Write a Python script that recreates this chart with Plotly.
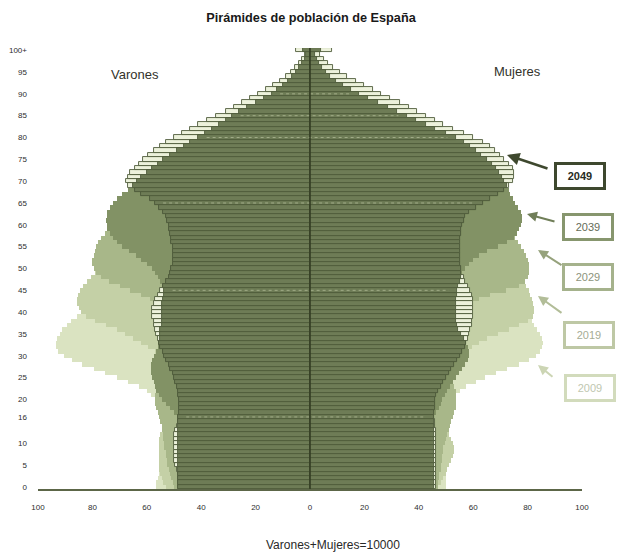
import numpy as np
import plotly.graph_objects as go

# ---------------- data (per 10000 inhabitants, single years of age 0..100+) ----------------
ages = list(range(101))
age_tick_vals = [0, 5, 10, 16, 20, 25, 30, 35, 40, 45, 50, 55, 60, 65, 70, 75, 80, 85, 90, 95, 100]
age_tick_text = ["0", "5", "10", "16", "20", "25", "30", "35", "40", "45", "50", "55", "60", "65",
                 "70", "75", "80", "85", "90", "95", "100+"]
x_tick_vals = [-100, -80, -60, -40, -20, 0, 20, 40, 60, 80, 100]
x_tick_text = ["100", "80", "60", "40", "20", "0", "20", "40", "60", "80", "100"]
years = ["2009", "2019", "2029", "2039", "2049"]
marked_ages = [16, 45, 65, 80, 85, 90]

men_2009 = [56.6, 56.6, 56, 55.5, 54.5, 53, 51.5, 50, 48.5, 47.5,
            47, 46.5, 46.5, 46.5, 47, 48, 49.5, 51.5, 53.5, 55.5,
            57, 58.5, 60, 63, 67, 71, 75.5, 79.5, 84, 87.5,
            90.5, 92.5, 93.5, 93.5, 93, 92, 91, 89.5, 88, 85.5,
            83.5, 82, 80.5, 79, 78, 76.5, 75, 73.5, 72, 70.5,
            69, 67.5, 66, 64.5, 63, 61.5, 60, 58.5, 57, 55.5,
            54.5, 53, 52, 51, 49.5, 48, 46, 42, 39, 37,
            38, 38.5, 38, 36, 34, 33, 32, 31, 30, 28,
            26, 24, 22, 20, 17.5, 15, 13, 11, 9, 7.5,
            6, 4.5, 3.5, 2.5, 2, 1.4, 1, 0.7, 0.5, 0.3, 0.6]
men_2019 = [53, 54, 54.5, 55, 55.5, 55.5, 55.5, 55.5, 55.5, 55.5,
            55.5, 55.5, 55, 54.5, 54, 53, 52, 51.5, 51, 50.5,
            50.5, 50.5, 50.5, 50.5, 51, 51.5, 52, 53, 54, 55,
            56, 57, 59.5, 62, 65, 68, 71, 75, 79, 82.5,
            84.3, 85, 85.7, 85.7, 85.3, 84.5, 83.5, 82, 80.5, 79,
            77.5, 76, 74.5, 73, 71.5, 70, 69, 68, 66.5, 65,
            63.5, 62, 60.5, 59, 58, 57, 56, 54.5, 52, 49.5,
            47.5, 46, 45, 44, 43, 41.5, 40, 38.5, 37, 33,
            30, 27.5, 25, 22.5, 20, 17.5, 15, 13, 11, 9,
            7.5, 6, 4.5, 3.5, 2.5, 1.8, 1.3, 0.9, 0.6, 0.4, 0.8]
men_2029 = [50, 50.5, 51, 51.5, 52, 52.5, 52.5, 53, 53, 53.5,
            53.5, 54, 54, 54.5, 54.5, 55, 55.5, 56, 56.5, 57,
            57, 57, 56.5, 56, 55.5, 55, 54.5, 54, 53.5, 53,
            53, 53, 53, 53.5, 54, 54.5, 55, 55, 55, 55,
            55.5, 56, 57, 59, 62, 66, 70, 74, 77, 78.5,
            79.5, 80, 80, 79.5, 79, 78.5, 78, 77, 75.5, 73.5,
            71.5, 70, 68.5, 67, 65.5, 64, 62.5, 61, 59, 57,
            55, 53, 51, 49, 47, 45, 42.5, 40, 37, 34.5,
            32, 29, 26.5, 24, 21, 18.5, 16, 13.5, 11, 9.5,
            8, 6.5, 5, 4, 3, 2.3, 1.7, 1.2, 0.9, 0.6, 1]
men_2039 = [48.5, 48.5, 48.5, 48.5, 48.5, 48.5, 48.5, 48.5, 48.5, 48.5,
            48.5, 48.5, 48.5, 48.5, 48.5, 48.5, 49, 50, 51.5, 53,
            54.5, 55.5, 56.5, 57, 57.5, 58, 58.5, 58.5, 58.5, 58,
            57.5, 56.5, 56, 55.5, 55, 55, 55, 54.5, 54.5, 54.5,
            54.5, 54.5, 54.5, 54, 53.5, 53.5, 54, 55, 56, 57,
            58, 60, 62, 64, 66.5, 69, 71, 72.5, 73.5, 74.5,
            74.8, 75, 74.8, 74.5, 73.5, 72.5, 71, 69, 67, 65,
            63.5, 62, 60, 58, 56, 54, 51.5, 49, 46.5, 44,
            41, 38.5, 36, 33.5, 31, 28.5, 26, 23, 20, 17,
            14, 12, 10, 8, 6.5, 5, 4, 3, 2, 1.5, 2.5]
men_2049 = [48.5, 48.5, 48.5, 48.5, 49, 49.5, 50, 50, 50, 50,
            50, 50, 50, 49.5, 49, 48.5, 48.5, 48, 48, 48,
            48, 48.5, 48.5, 49, 49.5, 50, 50.5, 51.5, 52, 53,
            53.5, 54, 55, 55.5, 56, 56.5, 57, 57.5, 57.5, 58,
            58, 58, 57.5, 57, 56, 55, 54, 53, 52, 51.5,
            51, 50.5, 50.5, 50.5, 50.5, 50.5, 51, 51, 51.5, 52,
            52, 52.5, 53, 54, 55.5, 57, 59, 62, 64.5, 67,
            67.5, 67, 66, 64.5, 63, 61.5, 59.5, 57.5, 55, 53,
            50, 47, 44, 41, 38, 34.5, 31, 28, 25, 22,
            19, 16, 13.5, 11, 9, 7, 5.5, 4, 3, 2, 5]

women_2009 = [50, 50, 50, 49.5, 48.5, 47.5, 46.5, 45.5, 45, 44.5,
              44, 44, 44, 44, 44.5, 45, 46, 47, 48, 49.5,
              51.5, 53, 55, 57.5, 61, 64.5, 68.5, 72.5, 77, 80.5,
              83, 84.5, 85.3, 85.5, 85.3, 84.5, 83.5, 82.5, 81.5, 80.5,
              79.5, 78.5, 77.5, 76.5, 75.5, 74.5, 73.5, 72, 70.5, 69,
              67.5, 66, 65, 64, 63, 62, 61, 60, 59, 58,
              57, 56, 55, 54, 53, 51.5, 50, 46, 43, 41,
              43, 44, 44, 43, 42, 41, 40.5, 40, 39, 37.5,
              36, 34, 32, 30, 27.5, 25, 22.5, 20, 17.5, 15,
              12.5, 10, 8, 6.5, 5, 3.8, 2.8, 2, 1.4, 1, 2]
women_2019 = [47, 48, 49, 50, 50.5, 51, 52, 52.5, 53, 53,
              52.5, 52, 51, 50.5, 50, 49, 48, 47.5, 47, 46.5,
              46.5, 46.5, 47, 47.5, 48, 49, 50, 51, 52, 53.5,
              55, 57, 59.5, 62, 65, 69, 73, 77, 80, 82,
              82.5, 82.5, 82, 81.5, 81, 80.5, 79.5, 78.5, 77.5, 76.5,
              75.5, 74.5, 73.5, 72.5, 71.5, 70.5, 69.5, 68.5, 67.5, 66.5,
              65.5, 64.5, 63.5, 62.5, 61.5, 60.5, 59.5, 58, 56.5, 55,
              53.5, 52.5, 51.5, 50.5, 49.5, 48.5, 47.5, 46.5, 45.5, 42,
              39, 36.5, 34, 31.5, 29, 26.5, 24, 21.5, 19, 16.5,
              14, 11.5, 9.5, 7.5, 6, 4.5, 3.3, 2.4, 1.7, 1.2, 3]
women_2029 = [47, 47, 47.5, 47.5, 48, 48, 48.5, 48.5, 49, 49,
              49.5, 50, 50.5, 51, 51.5, 52, 52.5, 53, 53.5, 53.5,
              53.5, 53.5, 53.5, 53, 52.5, 52, 51.5, 51, 50.5, 50,
              50, 50, 50.5, 51, 51.5, 52, 52.5, 53, 54, 55,
              56, 57, 59, 62, 66, 72, 77, 79, 80, 80.5,
              80.5, 80.5, 80, 79.5, 78.5, 77.5, 76.5, 75.5, 74.5, 73.5,
              72.5, 71.5, 70.5, 69.5, 68.5, 67.5, 66.5, 65.5, 64.5, 63.5,
              62, 61, 60, 59, 58, 57, 55.5, 54, 52.5, 51,
              49.5, 48, 46, 44, 42, 40, 37, 34, 31, 26,
              22, 19, 16, 13, 10.5, 8, 6, 4.5, 3.3, 2.4, 4]
women_2039 = [45.5, 45.5, 45.5, 45.5, 45.5, 45.5, 45.5, 45.5, 45.5, 45.5,
              45.5, 45.5, 45.5, 45.5, 45.5, 45.5, 45.5, 46.5, 47.5, 48,
              48.6, 49.5, 50.5, 51.5, 52.5, 53.6, 54.8, 56, 57, 58,
              58.5, 58.5, 58, 57.5, 56.5, 55.5, 54.5, 54, 53.6, 53.5,
              53.5, 53.5, 53.5, 53.5, 54, 54, 54.5, 55, 55.5, 56,
              57, 58.5, 60, 62, 65, 69, 72.5, 75, 76, 77,
              77.5, 78, 78, 77.5, 76.5, 75.5, 74.5, 73.5, 73, 72.5,
              71.5, 70.5, 69.5, 68.5, 67, 65, 63, 61, 59, 56.5,
              53.5, 50, 46, 42.5, 39, 35.5, 32, 28.5, 25, 21.5,
              18, 15, 12, 9.5, 7.5, 6, 4.5, 3.3, 2.5, 1.8, 4]
women_2049 = [46.5, 46.5, 46.5, 46.5, 46.5, 46.5, 46.5, 46.5, 46.5, 46.5,
              46.5, 46.5, 46.5, 46.5, 46, 45.8, 45.6, 45.6, 45.8, 46,
              46, 46.5, 47, 48, 49, 50, 51, 52, 53, 54,
              55, 56, 57, 57.5, 58, 58.5, 59, 59.5, 59.5, 60,
              60, 60, 60, 60, 59.5, 59, 58, 57, 56.5, 55.5,
              55.5, 55, 55, 55, 55, 55, 55, 55, 55.5, 55.5,
              56, 56.5, 57, 58.5, 61, 63.5, 66, 69, 71.5, 73,
              74.5, 75, 75, 74.5, 73, 71.5, 70, 68, 66, 63.5,
              60, 56.5, 52.5, 49, 46, 42.5, 39.5, 36.5, 33, 29.5,
              26, 23, 20, 17, 13.5, 11, 8.5, 6.5, 5, 3.5, 8]

# ---------------- styling ----------------
FONT = "Liberation Sans, Arial, sans-serif"
OFF = 8                       # the page body adds an 8px margin left/top of the figure
W, H = 624 - OFF, 553 - OFF
# plot area in page pixels: x 38..582, y 48..489
ML, MT = 38 - OFF, 48 - OFF
MR, MB = W - (582 - OFF), H - (489 - OFF)
fill = {"2009": "rgb(218,227,193)", "2019": "rgb(196,208,166)", "2029": "rgb(168,183,137)",
        "2039": "rgb(130,146,101)", "2049": "rgb(236,241,219)"}
overlap_fill = "rgb(110,124,86)"
dark_line = "rgb(80,92,60)"

series = {
    "2009": (men_2009, women_2009),
    "2019": (men_2019, women_2019),
    "2029": (men_2029, women_2029),
    "2039": (men_2039, women_2039),
    "2049": (men_2049, women_2049),
}

fig = go.Figure()


def add_pair(men, women, color, line_color=None, line_width=0, name=""):
    for vals, sign in ((men, -1), (women, 1)):
        fig.add_trace(go.Bar(
            x=[sign * v for v in vals], y=ages, orientation="h", width=1,
            marker=dict(color=color, line=dict(color=line_color or color, width=line_width)),
            name=name, showlegend=False, hoverinfo="skip"))


for yr in ["2009", "2019", "2029", "2039"]:
    add_pair(*series[yr], fill[yr], name=yr)
add_pair(men_2049, women_2049, fill["2049"], dark_line, 0.9, name="2049")
# common part of 2039 and 2049, drawn darkest in front
men_common = np.minimum(men_2039, men_2049)
women_common = np.minimum(women_2039, women_2049)
add_pair(list(men_common), list(women_common), overlap_fill, dark_line, 0.9, name="2039-2049")

shapes = []
for a in marked_ages:
    shapes.append(dict(type="line", xref="x", yref="y", x0=-(men_common[a] - 3), x1=women_common[a] - 3,
                       y0=a, y1=a, line=dict(color="rgb(160,171,135)", width=1, dash="dot"), layer="above"))
shapes.append(dict(type="line", xref="x", yref="y", x0=0, x1=0, y0=-0.5, y1=100.5,
                   line=dict(color="rgb(48,58,32)", width=1.5), layer="above"))


# page-pixel -> paper helpers for decorations
def px_x(px):
    return (px - 38) / (582 - 38)


def px_y(py):
    return (489 - py) / (489 - 48)


annotations = [
    dict(x=px_x(135), y=px_y(75), xref="paper", yref="paper", text="Varones", showarrow=False,
         xanchor="center", yanchor="middle", font=dict(family=FONT, size=13, color="rgb(50,50,42)")),
    dict(x=px_x(517), y=px_y(71), xref="paper", yref="paper", text="Mujeres", showarrow=False,
         xanchor="center", yanchor="middle", font=dict(family=FONT, size=13, color="rgb(50,50,42)")),
    dict(x=px_x(333), y=px_y(545), xref="paper", yref="paper", text="Varones+Mujeres=10000",
         showarrow=False, xanchor="center", yanchor="middle",
         font=dict(family=FONT, size=12, color="rgb(40,40,40)")),
]

legend_style = {
    "2049": dict(pos=(580, 176), border="rgb(62,72,46)", text="rgb(40,44,34)", bold=True, arrow="rgb(62,72,46)",
                 head=(507, 155), tail=(549, 169), aw=2.5),
    "2039": dict(pos=(588, 227), border="rgb(135,150,110)", text="rgb(100,108,88)", bold=False,
                 arrow="rgb(112,126,88)", head=(527, 214), tail=(556, 222), aw=2),
    "2029": dict(pos=(588, 277), border="rgb(165,178,140)", text="rgb(140,148,124)", bold=False,
                 arrow="rgb(150,162,124)", head=(538, 250), tail=(563, 266), aw=2),
    "2019": dict(pos=(589, 335), border="rgb(190,200,165)", text="rgb(165,172,148)", bold=False,
                 arrow="rgb(178,189,152)", head=(538, 296), tail=(563, 314), aw=2),
    "2009": dict(pos=(590, 388), border="rgb(210,219,188)", text="rgb(192,199,176)", bold=False,
                 arrow="rgb(204,213,180)", head=(538, 365), tail=(554, 378), aw=2),
}
for yr in years:
    s = legend_style[yr]
    label = f"<b>{yr}</b>" if s["bold"] else yr
    annotations.append(dict(x=px_x(s["pos"][0]), y=px_y(s["pos"][1]), xref="paper", yref="paper", text=label,
                            showarrow=False, xanchor="center", yanchor="middle", bgcolor="white",
                            bordercolor=s["border"], borderwidth=3, borderpad=3, width=40, height=16,
                            font=dict(family=FONT, size=11, color=s["text"])))
    hx, hy = s["head"]
    tx, ty = s["tail"]
    annotations.append(dict(x=px_x(hx), y=px_y(hy), xref="paper", yref="paper",
                            ax=tx - hx, ay=ty - hy, axref="pixel", ayref="pixel",
                            text="", showarrow=True, arrowhead=2, arrowsize=1, arrowwidth=s["aw"],
                            arrowcolor=s["arrow"]))

fig.update_layout(
    width=W, height=H,
    margin=dict(l=ML, r=MR, t=MT, b=MB, autoexpand=False),
    paper_bgcolor="white", plot_bgcolor="white",
    barmode="overlay", bargap=0,
    title=dict(text="<b>Pirámides de población de España</b>", x=px_x(311), xref="paper", xanchor="center",
               y=1 - (18 - OFF) / H, yanchor="middle", automargin=False,
               font=dict(family=FONT, size=12.7, color="rgb(25,25,25)")),
    xaxis=dict(range=[-100, 100], tickvals=x_tick_vals, ticktext=x_tick_text, showgrid=False,
               zeroline=False, showline=True, linecolor="rgb(92,102,72)", linewidth=2, ticks="",
               ticklabelstandoff=9, automargin=False,
               tickfont=dict(family=FONT, size=8, color="rgb(45,45,45)"), fixedrange=True),
    yaxis=dict(range=[-0.5, 100.5], tickvals=age_tick_vals, ticktext=age_tick_text, showgrid=False,
               zeroline=False, showline=False, ticks="", ticklabelstandoff=10, automargin=False,
               tickfont=dict(family=FONT, size=8, color="rgb(45,45,45)"), fixedrange=True),
    shapes=shapes, annotations=annotations, showlegend=False,
)

fig.write_html("out.html")
